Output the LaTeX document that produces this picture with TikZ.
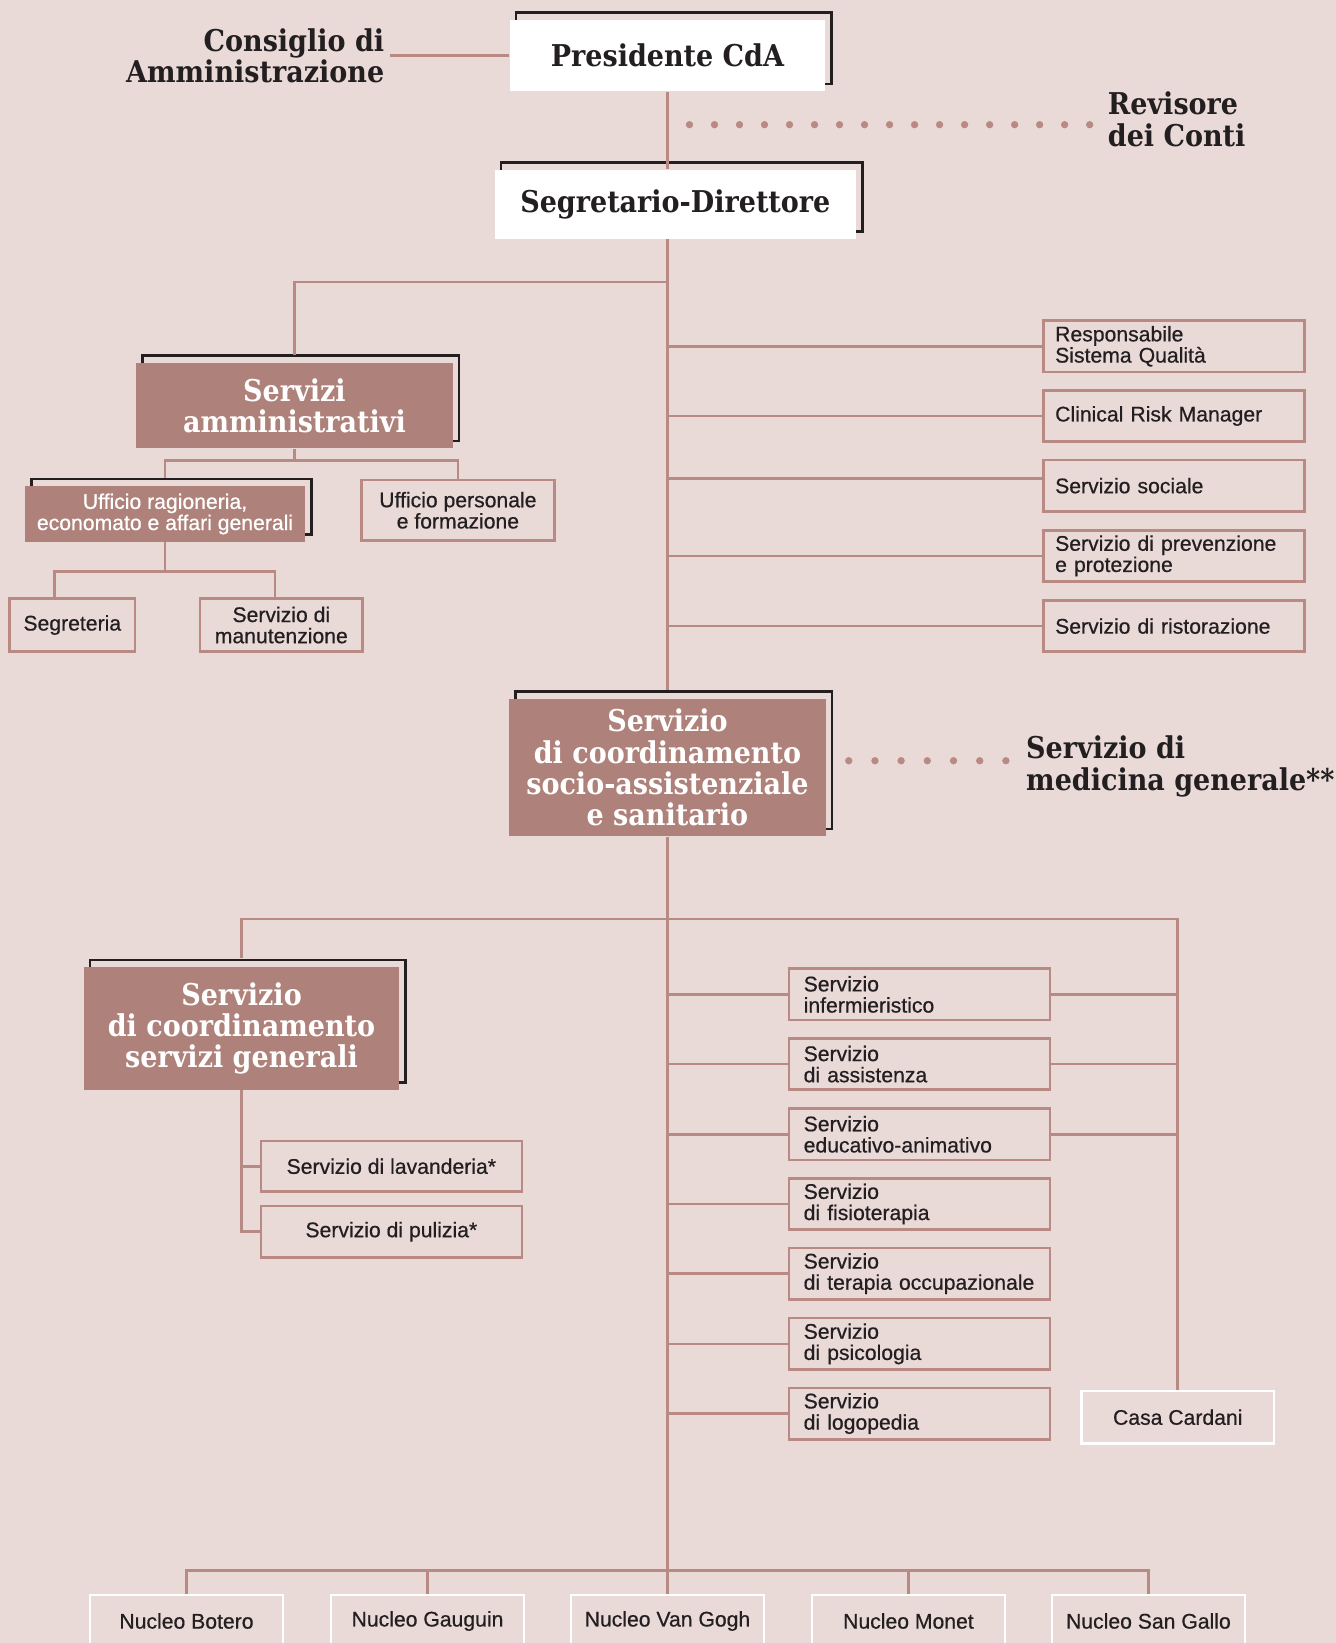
\documentclass[tikz,border=0pt]{standalone}
\usepackage{fontspec}
\setmainfont{Liberation Sans}[RawFeature={embolden=0.6}]
\newfontfamily\slabfont{DejaVu Serif Condensed}
\usetikzlibrary{shadows}

\newlength{\gridu}
\setlength{\gridu}{0.02cm}
\definecolor{bgc}{HTML}{E9DAD8}
\definecolor{boxc}{HTML}{AE827A}
\definecolor{linec}{HTML}{B88A83}
\definecolor{inkc}{HTML}{231F20}
\newcommand{\bodyfont}{\fontsize{11.5}{11.5}\selectfont}
\newcommand{\headfont}{\slabfont\bfseries\fontsize{16.3}{17}\selectfont}

\tikzset{
	link/.style={draw=linec, line width=2.5\gridu},
	dotlink/.style={draw=linec, line width=7\gridu, line cap=round, dash pattern=on 0pt off 0.4775cm},
	headtext/.style={font=\headfont, text=inkc},
	framed/.style={inner sep=0pt, align=center, general shadow={draw=inkc, line width=2.5\gridu, shadow xshift=6\gridu, shadow yshift=7\gridu}},
	darkbox/.style={framed, fill=boxc, text=white, font=\headfont},
	whitebox/.style={framed, fill=white, text=inkc, font=\headfont},
	servbox/.style={draw=linec, line width=2.5\gridu, text=inkc, font=\bodyfont, inner sep=0pt, align=center},
	rightbox/.style={servbox, text width=227\gridu, inner xsep=11\gridu, align=left, minimum height=49\gridu},
	midbox/.style={servbox, text width=221\gridu, inner xsep=14\gridu, align=left, minimum height=49\gridu},
	nucbox/.style={draw=white, line width=2.5\gridu, text=inkc, font=\bodyfont, inner sep=0pt, align=center, minimum width=184\gridu, minimum height=50\gridu}
}

\begin{document}
\begin{tikzpicture}[x=0.02cm, y=-0.02cm]
	\useasboundingbox (0,0) rectangle (1275,1568);
	\fill[bgc] (0,0) rectangle (1275,1568);

	% vertice
	\node[whitebox, minimum width=301\gridu, minimum height=68\gridu] (pres) at (637,53) {Presidente CdA};
	\node[headtext, anchor=east, align=right, inner xsep=5\gridu] (cda) at (372,53) {Consiglio di\\Amministrazione};
	\node[headtext, anchor=west, align=left, inner xsep=17\gridu] (rev) at (1040,114) {Revisore\\dei Conti};
	\coordinate (revdot) at (658,119);
	\node[whitebox, minimum width=345\gridu, minimum height=66\gridu] (segr) at (644.5,195) {Segretario-Direttore};

	% servizi amministrativi
	\node[darkbox, minimum width=302\gridu, minimum height=82\gridu] (amm) at (281,387) {Servizi\\amministrativi};
	\node[darkbox, font=\bodyfont, minimum width=267\gridu, minimum height=53\gridu] (rag) at (157.5,490.5) {Ufficio ragioneria,\\economato e affari generali};
	\node[servbox, minimum width=184\gridu, minimum height=58\gridu] (pers) at (437,487) {Ufficio personale\\e formazione};
	\node[servbox, minimum width=120\gridu, minimum height=51\gridu] (segre) at (69,596.5) {Segreteria};
	\node[servbox, minimum width=155\gridu, minimum height=51\gridu] (manut) at (268.5,596.5) {Servizio di\\manutenzione};

	% staff
	\node[rightbox] (qual) at (1120.5,330.5) {Responsabile\\Sistema Qualità};
	\node[rightbox] (crm) at (1120.5,397) {Clinical Risk Manager};
	\node[rightbox] (ssoc) at (1120.5,463.5) {Servizio sociale};
	\node[rightbox] (prev) at (1120.5,530.5) {Servizio di prevenzione\\e protezione};
	\node[rightbox] (rist) at (1120.5,597.5) {Servizio di ristorazione};

	% coordinamento socio-assistenziale
	\node[darkbox, minimum width=302\gridu, minimum height=131\gridu] (socio) at (637,732.5) {Servizio\\di coordinamento\\socio-assistenziale\\e sanitario};
	\node[headtext, anchor=west, align=left, inner xsep=19\gridu] (med) at (960,731.5) {Servizio di\\medicina generale**};
	\coordinate (meddot) at (810,726);

	% servizi generali
	\node[darkbox, minimum width=301\gridu, minimum height=117\gridu] (gen) at (230.5,981.5) {Servizio\\di coordinamento\\servizi generali};
	\node[servbox, minimum width=249\gridu, minimum height=48\gridu] (lav) at (373.5,1113) {Servizio di lavanderia*};
	\node[servbox, minimum width=249\gridu, minimum height=49\gridu] (pul) at (373.5,1175.5) {Servizio di pulizia*};

	% servizi socio-sanitari
	\node[midbox] (inf) at (877.5,949) {Servizio\\infermieristico};
	\node[midbox] (ass) at (877.5,1015.5) {Servizio\\di assistenza};
	\node[midbox] (edu) at (877.5,1082.5) {Servizio\\educativo-animativo};
	\node[midbox] (fis) at (877.5,1149) {Servizio\\di fisioterapia};
	\node[midbox] (occ) at (877.5,1215.5) {Servizio\\di terapia occupazionale};
	\node[midbox] (psi) at (877.5,1282.5) {Servizio\\di psicologia};
	\node[midbox] (logo) at (877.5,1349) {Servizio\\di logopedia};
	\node[nucbox] (casa) at (1124,1352.5) {Casa Cardani};

	% nuclei
	\node[nucbox] (n1) at (178,1547) {Nucleo Botero};
	\node[nucbox] (n2) at (408,1547) {Nucleo Gauguin};
	\node[nucbox] (n3) at (637,1547) {Nucleo Van Gogh};
	\node[nucbox] (n4) at (867,1547) {Nucleo Monet};
	\node[nucbox] (n5) at (1096,1547) {Nucleo San Gallo};

	% collegamenti
	\draw[link] (pres.west) -- (pres.west -| cda.east);
	\draw[link] (pres.south) -- (pres.south |- segr.north);
	\draw[link] (pres.south |- segr.south) -- ([yshift=8\gridu]socio.north);
	\draw[link] (socio.south) -- (n3.north);
	\draw[dotlink] (revdot) -- (revdot -| rev.west);
	\draw[dotlink, dash pattern=on 0pt off 0.5cm] (meddot) -- (meddot -| med.west);

	\coordinate (ammj) at (637,269);
	\draw[link] (ammj) -| ([yshift=7\gridu]amm.north);
	\draw[link] (amm.south) -- ++(0,11) coordinate (ammb);
	\draw[link] ([yshift=7\gridu]rag.north) |- (ammb) -| (pers.north);
	\draw[link] (rag.south) -- ++(0,28) coordinate (ragb);
	\draw[link] ([xshift=-17\gridu]segre.north) |- (ragb) -| ([xshift=-6\gridu]manut.north);

	\foreach \b in {qual,crm,prev,rist}
		\draw[link] (\b.west) -- (\b.west -| pres.south);
	\draw[link] ([yshift=7\gridu]ssoc.west) -- ([yshift=7\gridu]ssoc.west -| pres.south);

	\coordinate (genj) at (637,877);
	\draw[link] ([yshift=8\gridu]gen.north) |- (genj) -| (casa.north);
	\draw[link] (gen.south) |- (pul.west);
	\draw[link] (lav.west) -- (lav.west -| gen.south);

	\foreach \b in {inf,ass,edu,fis,occ,psi,logo}
		\draw[link] (\b.west) -- (\b.west -| pres.south);
	\foreach \b in {inf,ass,edu}
		\draw[link] (\b.east) -- (\b.east -| casa.north);

	\coordinate (nucj) at (637,1499);
	\draw[link] (n1.north) |- (nucj) -| (n5.north);
	\draw[link] (n2.north) -- (n2.north |- nucj);
	\draw[link] (n4.north) -- (n4.north |- nucj);
\end{tikzpicture}
\end{document}
